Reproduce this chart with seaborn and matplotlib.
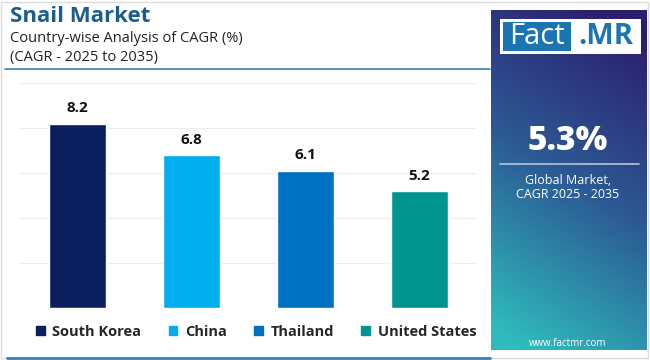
import numpy as np
import pandas as pd
import matplotlib
matplotlib.use("Agg")
import matplotlib.pyplot as plt
from matplotlib.patches import Rectangle
from matplotlib.lines import Line2D
import seaborn as sns

countries = ["South Korea", "China", "Thailand", "United States"]
cagr = [8.2, 6.8, 6.1, 5.2]
colors = ["#0b1f5e", "#00adef", "#0070c0", "#00968f"]
title = "Snail Market"
subtitle = ["Country-wise Analysis of CAGR (%)", "(CAGR - 2025 to 2035)"]
global_cagr = "5.3%"

sns.set_theme(style="white")
plt.rcParams['font.family'] = ['Open Sans', 'DejaVu Sans']

W, H = 650, 360
fig = plt.figure(figsize=(W/100, H/100), dpi=100)
fig.patch.set_facecolor("white")

def fx(x): return x / W
def fy(y): return 1 - y / H

# outer border
fig.add_artist(Rectangle((fx(1), fy(358)), fx(647), (356)/H, transform=fig.transFigure,
                         fill=False, edgecolor="#dcdcdc", lw=1))
# bottom blue line
fig.add_artist(Line2D([fx(7), fx(490)], [fy(358), fy(358)], transform=fig.transFigure,
                      color="#3d7fb3", lw=2))

# titles
fig.text(fx(10), fy(16), title, fontsize=16, fontweight="bold", color="#1c5d8c", va="center")
fig.text(fx(10), fy(38), subtitle[0], fontsize=10.5, color="#222222", va="center")
fig.text(fx(10), fy(57), subtitle[1], fontsize=10.5, color="#222222", va="center")
fig.add_artist(Line2D([fx(5), fx(490)], [fy(69), fy(69)], transform=fig.transFigure,
                      color="#3d7fb3", lw=1.2))

# main axes
ax = fig.add_axes([fx(20), fy(308), fx(456), (308-83)/H])
df = pd.DataFrame({"country": countries, "cagr": cagr})
sns.barplot(data=df, x="country", y="cagr", hue="country", palette=colors,
            width=0.5, ax=ax, legend=False, saturation=1)
ax.set_ylim(0, 10)
ax.set_xlim(-0.5, 3.5)
ax.set_yticks(np.arange(0, 11, 2))
ax.yaxis.grid(True, color="#ececec", lw=0.8)
ax.set_axisbelow(True)
for s in ax.spines.values():
    s.set_visible(False)
ax.set_xticks([])
ax.set_yticklabels([])
ax.tick_params(left=False, bottom=False)
ax.set_xlabel("")
ax.set_ylabel("")
ax.set_facecolor("none")
for c in ax.containers:
    ax.bar_label(c, fmt="%.1f", padding=6, fontsize=11, fontweight="bold", color="#111111")

# legend
handles = [Rectangle((0, 0), 1, 1, color=c) for c in colors]
fig.legend(handles, countries, loc="center", bbox_to_anchor=(fx(256), fy(332)), ncol=4,
           frameon=False, prop={"size": 10.5, "weight": "bold"}, handlelength=0.6,
           handleheight=0.6, columnspacing=1.9, handletextpad=0.5)

# right panel gradient
pax = fig.add_axes([fx(491), fy(350), fx(156), (350-10)/H])
ny, nx = 200, 60
yy, xx = np.mgrid[0:1:ny*1j, 0:1:nx*1j]
t = np.clip(0.85*yy + 0.25*(1-xx) - 0.05, 0, 1)  # 0 top, 1 bottom-left
top = np.array([0x2d, 0x1c, 0x6c]) / 255
mid = np.array([0x2c, 0x5a, 0x94]) / 255
bot = np.array([0x2f, 0xbc, 0xbd]) / 255
img = np.where(t[..., None] < 0.5,
               top + (mid - top) * (t[..., None] / 0.5),
               mid + (bot - mid) * ((t[..., None] - 0.5) / 0.5))
pax.imshow(img, aspect="auto", extent=[0, 1, 0, 1], origin="upper")
pax.set_axis_off()

# logo
fig.add_artist(Rectangle((fx(500), fy(54)), fx(141), 35/H, transform=fig.transFigure,
                         facecolor="white", edgecolor="none"))
fig.add_artist(Rectangle((fx(503), fy(51)), fx(68), 29/H, transform=fig.transFigure,
                         facecolor="#1b75b0", edgecolor="none"))
fig.text(fx(537), fy(37), "Fact", fontsize=21, color="white", ha="center", va="center")
fig.text(fx(606), fy(37), ".MR", fontsize=21, color="#1b75b0", ha="center", va="center",
         fontweight="bold")

fig.text(fx(568), fy(141), global_cagr, fontsize=24, color="white", ha="center", va="center",
         fontweight="heavy")
fig.add_artist(Line2D([fx(500), fx(639)], [fy(164), fy(164)], transform=fig.transFigure,
                      color="#b8c4dc", lw=1.2))
fig.text(fx(568), fy(180), "Global Market,", fontsize=9, color="white", ha="center", va="center")
fig.text(fx(568), fy(194), "CAGR 2025 - 2035", fontsize=9, color="white", ha="center", va="center")
fig.text(fx(568), fy(343), "www.factmr.com", fontsize=7, color="white", ha="center", va="center")

fig.savefig("out.png", dpi=100)
